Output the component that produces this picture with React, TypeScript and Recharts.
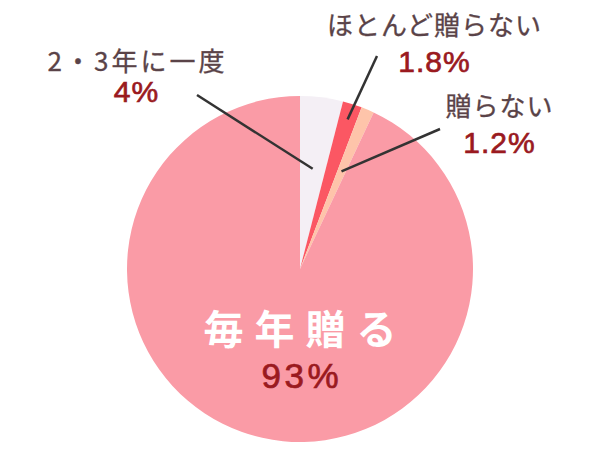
import { Cell, Pie, PieChart } from 'recharts'

const answers = ['2・3年に一度', 'ほとんど贈らない', '贈らない', '毎年贈る']
const shares = [4, 1.8, 1.2, 93]
const sliceColors = ['#f4eff5', '#fb5763', '#fec4aa', '#fa9ba6']

const data = answers.map((name, i) => ({ name, value: shares[i] }))

const RAD = Math.PI / 180
const LABEL_COLOR = '#5a4348'
const VALUE_COLOR = '#9a1a1f'
const JP_FONT = '"Noto Sans CJK JP", "Noto Sans", sans-serif'
const NUM_FONT = '"Liberation Sans", Arial, sans-serif'

// where each callout sits: text anchor, leader line's outer end, and how deep the line reaches into the pie
const callouts = [
  { x: 136, nameY: 71, valueY: 102, lineX: 197, lineY: 95, depth: 101, spacing: 3 },
  { x: 434, nameY: 35, valueY: 72, lineX: 377, lineY: 56, depth: 157, spacing: 1 },
  { x: 499, nameY: 116, valueY: 153, lineX: 440, lineY: 129, depth: 106, spacing: 1 },
]

type LabelProps = {
  cx: number
  cy: number
  midAngle: number
  index: number
  name: string
  value: number
}

// letter-spaced text carries trailing space, so nudge x right by half of it
function Label({ x, y, spacing, ...rest }: { x: number; y: number; spacing: number; [k: string]: unknown }) {
  return <text x={x + spacing / 2} y={y} letterSpacing={spacing} textAnchor='middle' {...rest} />
}

function renderLabel({ cx, cy, midAngle, index, name, value }: LabelProps) {
  if (index === 3) {
    return (
      <g key='label-3'>
        <Label x={cx} y={344} spacing={11} fill='#ffffff' fontFamily={JP_FONT} fontWeight={700} fontSize={40}>
          {name}
        </Label>
        <Label x={cx} y={388} spacing={3.5} fill={VALUE_COLOR} stroke={VALUE_COLOR} strokeWidth={0.7} fontFamily={NUM_FONT} fontSize={35}>
          {value}%
        </Label>
      </g>
    )
  }
  const c = callouts[index]
  const ix = cx + c.depth * Math.cos(-midAngle * RAD)
  const iy = cy + c.depth * Math.sin(-midAngle * RAD)
  return (
    <g key={`label-${index}`}>
      <line x1={ix} y1={iy} x2={c.lineX} y2={c.lineY} stroke='#333333' strokeWidth={2.5} />
      <Label x={c.x} y={c.nameY} spacing={c.spacing} fill={LABEL_COLOR} stroke={LABEL_COLOR} strokeWidth={0.3} fontFamily={JP_FONT} fontSize={26}>
        {name}
      </Label>
      <Label x={c.x} y={c.valueY} spacing={1} fill={VALUE_COLOR} stroke={VALUE_COLOR} strokeWidth={0.7} fontFamily={NUM_FONT} fontSize={30}>
        {value}%
      </Label>
    </g>
  )
}

export default function App() {
  return (
    <div style={{ position: 'absolute', left: 0, top: 0, background: '#ffffff' }}>
      <PieChart width={600} height={462} margin={{ top: 0, right: 0, bottom: 0, left: 0 }}>
        <Pie
          data={data}
          dataKey='value'
          nameKey='name'
          cx={300}
          cy={269}
          outerRadius={173}
          startAngle={90}
          endAngle={-270}
          stroke='none'
          labelLine={false}
          label={renderLabel}
          isAnimationActive={false}
        >
          {data.map((d, i) => (
            <Cell key={d.name} fill={sliceColors[i]} />
          ))}
        </Pie>
      </PieChart>
    </div>
  )
}
